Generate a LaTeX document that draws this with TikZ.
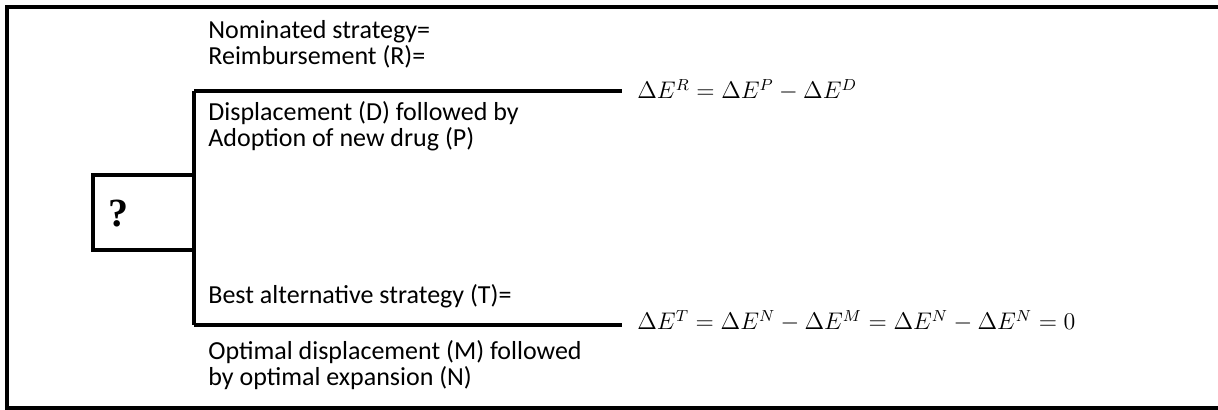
\documentclass[tikz,border=0pt]{standalone}
\usepackage{fontspec}
\setmainfont{Carlito}
\newfontfamily\qfont{Liberation Serif}

\begin{document}
\begin{tikzpicture}
        [%%%%%%%%%%%%%%%%%%%%%%%%%%%%%%
        x=0.5pt,y=-0.5pt,
        rule/.style={draw=black,line width=2pt},
        qbox/.style={rectangle,draw=black,line width=2pt,minimum width=50.5pt,minimum height=37.5pt},
        txt/.style={anchor=base west,inner sep=0pt,font=\fontsize{13}{15}\selectfont},
        formula/.style={anchor=base west,inner sep=0pt,font=\fontsize{11.5}{14}\selectfont},
        ]%%%%%%%%%%%%%%%%%%%%%%%%%%%%%%

        \useasboundingbox (0,0) rectangle (1218,410);
        \draw[rule] (1225,7) -- (7,7) -- (7,408) -- (1225,408);

        \node[qbox] (q) at (143.5,212.5){};
        \node[anchor=base west,inner sep=0pt,font=\qfont\bfseries\fontsize{20}{24}\selectfont] (qmark) at (108,227){?};

        \coordinate (fork top) at (194,91);
        \coordinate (fork bot) at (194,325);
        \coordinate (top end) at (622,91);
        \coordinate (bot end) at (622,325);
        \draw[rule] (fork top) -- (fork bot);
        \draw[rule] (fork top) -- (top end);
        \draw[rule] (fork bot) -- (bot end);

        \node[txt] (nom1) at (208,39){Nominated strategy=};
        \node[txt] (nom2) at (208,65){Reimbursement (R)=};
        \node[txt] (dis1) at (208,121){Displacement (D) followed by};
        \node[txt] (dis2) at (208,147){Adoption of new drug (P)};
        \node[txt] (best) at (208,304){Best alternative strategy (T)=};
        \node[txt] (opt1) at (208,360){Optimal displacement (M) followed};
        \node[txt] (opt2) at (208,386){by optimal expansion (N)};

        \node[formula] (dR) at (637,99){$\Delta E^R=\Delta E^P-\Delta E^D$};
        \node[formula] (dT) at (637,330){$\Delta E^T=\Delta E^N-\Delta E^M=\Delta E^N-\Delta E^N=0$};

      \end{tikzpicture}
\end{document}
